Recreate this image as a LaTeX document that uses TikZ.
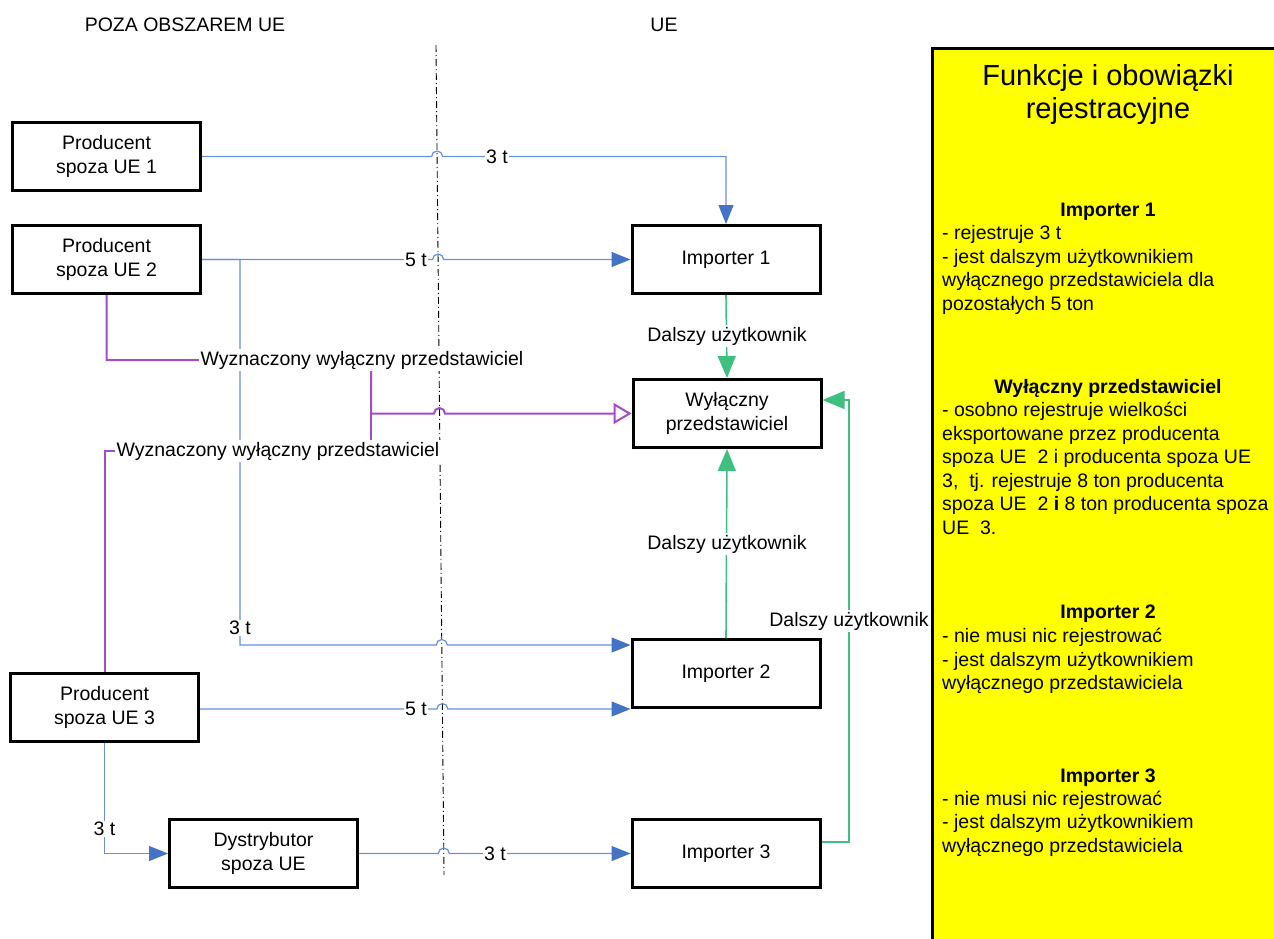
\documentclass[tikz,border=0pt]{standalone}
\usepackage{fontspec}
\setmainfont{Liberation Sans}
\usetikzlibrary{arrows.meta}
\definecolor{bltip}{RGB}{68,114,196}
\definecolor{blline}{RGB}{100,145,215}
\definecolor{grn}{RGB}{64,192,128}
\definecolor{pur}{RGB}{165,75,200}
\definecolor{yel}{RGB}{255,255,0}
\begin{document}
\begin{tikzpicture}[x=1pt,y=1pt,
  txt/.style={font=\fontsize{19.5}{24}\selectfont},
  box/.style={txt,draw=black,line width=3pt,minimum width=188pt,minimum height=68pt,align=center,inner sep=2pt,fill=white},
  lbl/.style={txt,fill=white,inner sep=1.5pt},
  bline/.style={draw=blline,line width=1.2pt},
  barrow/.style={bline,-{Triangle[length=19pt,width=15pt,color=bltip]}},
  garrow/.style={draw=grn,line width=1.6pt,-{Triangle[length=22pt,width=18pt,color=grn]}},
  gline/.style={draw=grn,line width=1.6pt},
  pline/.style={draw=pur,line width=2pt},
  parrow/.style={pline,-{Triangle[open,length=18pt,width=21pt,color=pur,line width=2pt]}},
  ytxt/.style={txt,anchor=base west,inner sep=0pt},
  yhead/.style={txt,font=\fontsize{19.5}{24}\selectfont\bfseries,anchor=base,inner sep=0pt},
  border/.style={draw=black,line width=0.9pt,dash pattern=on 7pt off 3pt on 1pt off 3pt}
]
\useasboundingbox (0,0) rectangle (1274,-938);

% headers
\node[txt] (hpoza) at (185,-25) {POZA OBSZAREM UE};
\node[txt] (hue) at (664,-25) {UE};

% border line
\coordinate (btop) at (436,-45);
\coordinate (bbot) at (444,-875);
\draw[border] (btop) -- (bbot);

% boxes
\node[box] (p1) at (106.5,-156.5) {Producent\\spoza UE 1};
\node[box] (p2) at (106.5,-259.5) {Producent\\spoza UE 2};
\node[box] (p3) at (104.5,-707.5) {Producent\\spoza UE 3};
\node[box] (d) at (263.5,-853.5) {Dystrybutor\\spoza UE};
\node[box] (i1) at (726,-259.5) {Importer 1};
\node[box] (wp) at (727,-413.5) {Wyłączny\\przedstawiciel};
\node[box] (i2) at (726,-673.5) {Importer 2};
\node[box] (i3) at (726,-853.5) {Importer 3};

% helper coordinates
\coordinate (c645) at (240,-645);
\coordinate (c709) at (0,-709);
\coordinate (c842) at (0,-842);
\coordinate (c400) at (0,-400);

% blue connectors
\draw[barrow] (p1.east) -- (431.6,-156.5) arc[start angle=180,end angle=0,radius=5.5] -| (i1.north);
\draw[barrow] (p2.east) -- (432.6,-259.5) arc[start angle=180,end angle=0,radius=5.5] -- (i1.west);
\draw[barrow] (p2.east) -- (240,-259.5) -- (c645) -- (436.3,-645) arc[start angle=180,end angle=0,radius=5.5] -- (i2.west |- c645);
\draw[barrow] (p3.east |- c709) -- (436.9,-709) arc[start angle=180,end angle=0,radius=5.5] -- (i2.west |- c709);
\draw[barrow] (p3.south) |- (d.west);
\draw[barrow] (d.east) -- (438.3,-853.5) arc[start angle=180,end angle=0,radius=5.5] -- (i3.west);

% green connectors
\draw[garrow] (i1.south) -- (wp.north);
\draw[garrow] (i2.north) -- (wp.south);
\draw[garrow] (i3.east |- c842) -- (849,-842) -- (849,-400) -- (wp.east |- c400);

% purple connectors
\draw[parrow] (p2.south) |- (371,-360) -- (371,-413.5) -- (434,-413.5) arc[start angle=180,end angle=0,radius=5.5] -- (wp.west);
\draw[pline] (p3.north) |- (371,-451) -- (371,-413.5);

% labels
\node[lbl] (l1) at (497,-156.5) {3 t};
\node[lbl] (l2) at (416,-259.5) {5 t};
\node[lbl] (l3) at (240,-628) {3 t};
\node[lbl] (l4) at (416,-708.5) {5 t};
\node[lbl] (l5) at (104.5,-829) {3 t};
\node[lbl] (l6) at (495,-853.5) {3 t};
\node[lbl] (g1) at (727,-336) {Dalszy użytkownik};
\node[lbl] (g2) at (727,-544) {Dalszy użytkownik};
\node[lbl] (g3) at (849,-621) {Dalszy użytkownik};
\node[lbl] (w1) at (362,-360) {Wyznaczony wyłączny przedstawiciel};
\node[lbl] (w2) at (278,-451) {Wyznaczony wyłączny przedstawiciel};

% yellow panel
\draw[fill=yel,line width=3pt] (932,-48) rectangle (1295,-960);
\node[txt,font=\fontsize{29}{34}\selectfont,anchor=base,inner sep=0pt] (t1) at (1108,-85) {Funkcje i obowiązki};
\node[txt,font=\fontsize{29}{34}\selectfont,anchor=base,inner sep=0pt] (t2) at (1108,-118) {rejestracyjne};

\node[yhead] (h1) at (1108,-216) {Importer 1};
\node[ytxt] (a1) at (942,-239.5) {- rejestruje 3 t};
\node[ytxt] (a2) at (942,-263) {- jest dalszym użytkownikiem};
\node[ytxt] (a3) at (942,-286.5) {wyłącznego przedstawiciela dla};
\node[ytxt] (a4) at (942,-310) {pozostałych 5 ton};

\node[yhead] (h2) at (1108,-393) {Wyłączny przedstawiciel};
\node[ytxt] (b1) at (942,-416.5) {- osobno rejestruje wielkości};
\node[ytxt] (b2) at (942,-440) {eksportowane przez producenta};
\node[ytxt] (b3) at (942,-463.5) {spoza UE\ \ 2 i producenta spoza UE};
\node[ytxt] (b4) at (942,-487) {3,\ \ tj. rejestruje 8 ton producenta};
\node[ytxt] (b5) at (942,-510.5) {spoza UE\ \ 2 \textbf{i} 8 ton producenta spoza};
\node[ytxt] (b6) at (942,-534) {UE\ \ 3.};

\node[yhead] (h3) at (1108,-618) {Importer 2};
\node[ytxt] (c1) at (942,-642.5) {- nie musi nic rejestrować};
\node[ytxt] (c2) at (942,-666) {- jest dalszym użytkownikiem};
\node[ytxt] (c3) at (942,-689.5) {wyłącznego przedstawiciela};

\node[yhead] (h4) at (1108,-782) {Importer 3};
\node[ytxt] (e1) at (942,-805) {- nie musi nic rejestrować};
\node[ytxt] (e2) at (942,-828.5) {- jest dalszym użytkownikiem};
\node[ytxt] (e3) at (942,-852) {wyłącznego przedstawiciela};
\end{tikzpicture}
\end{document}
